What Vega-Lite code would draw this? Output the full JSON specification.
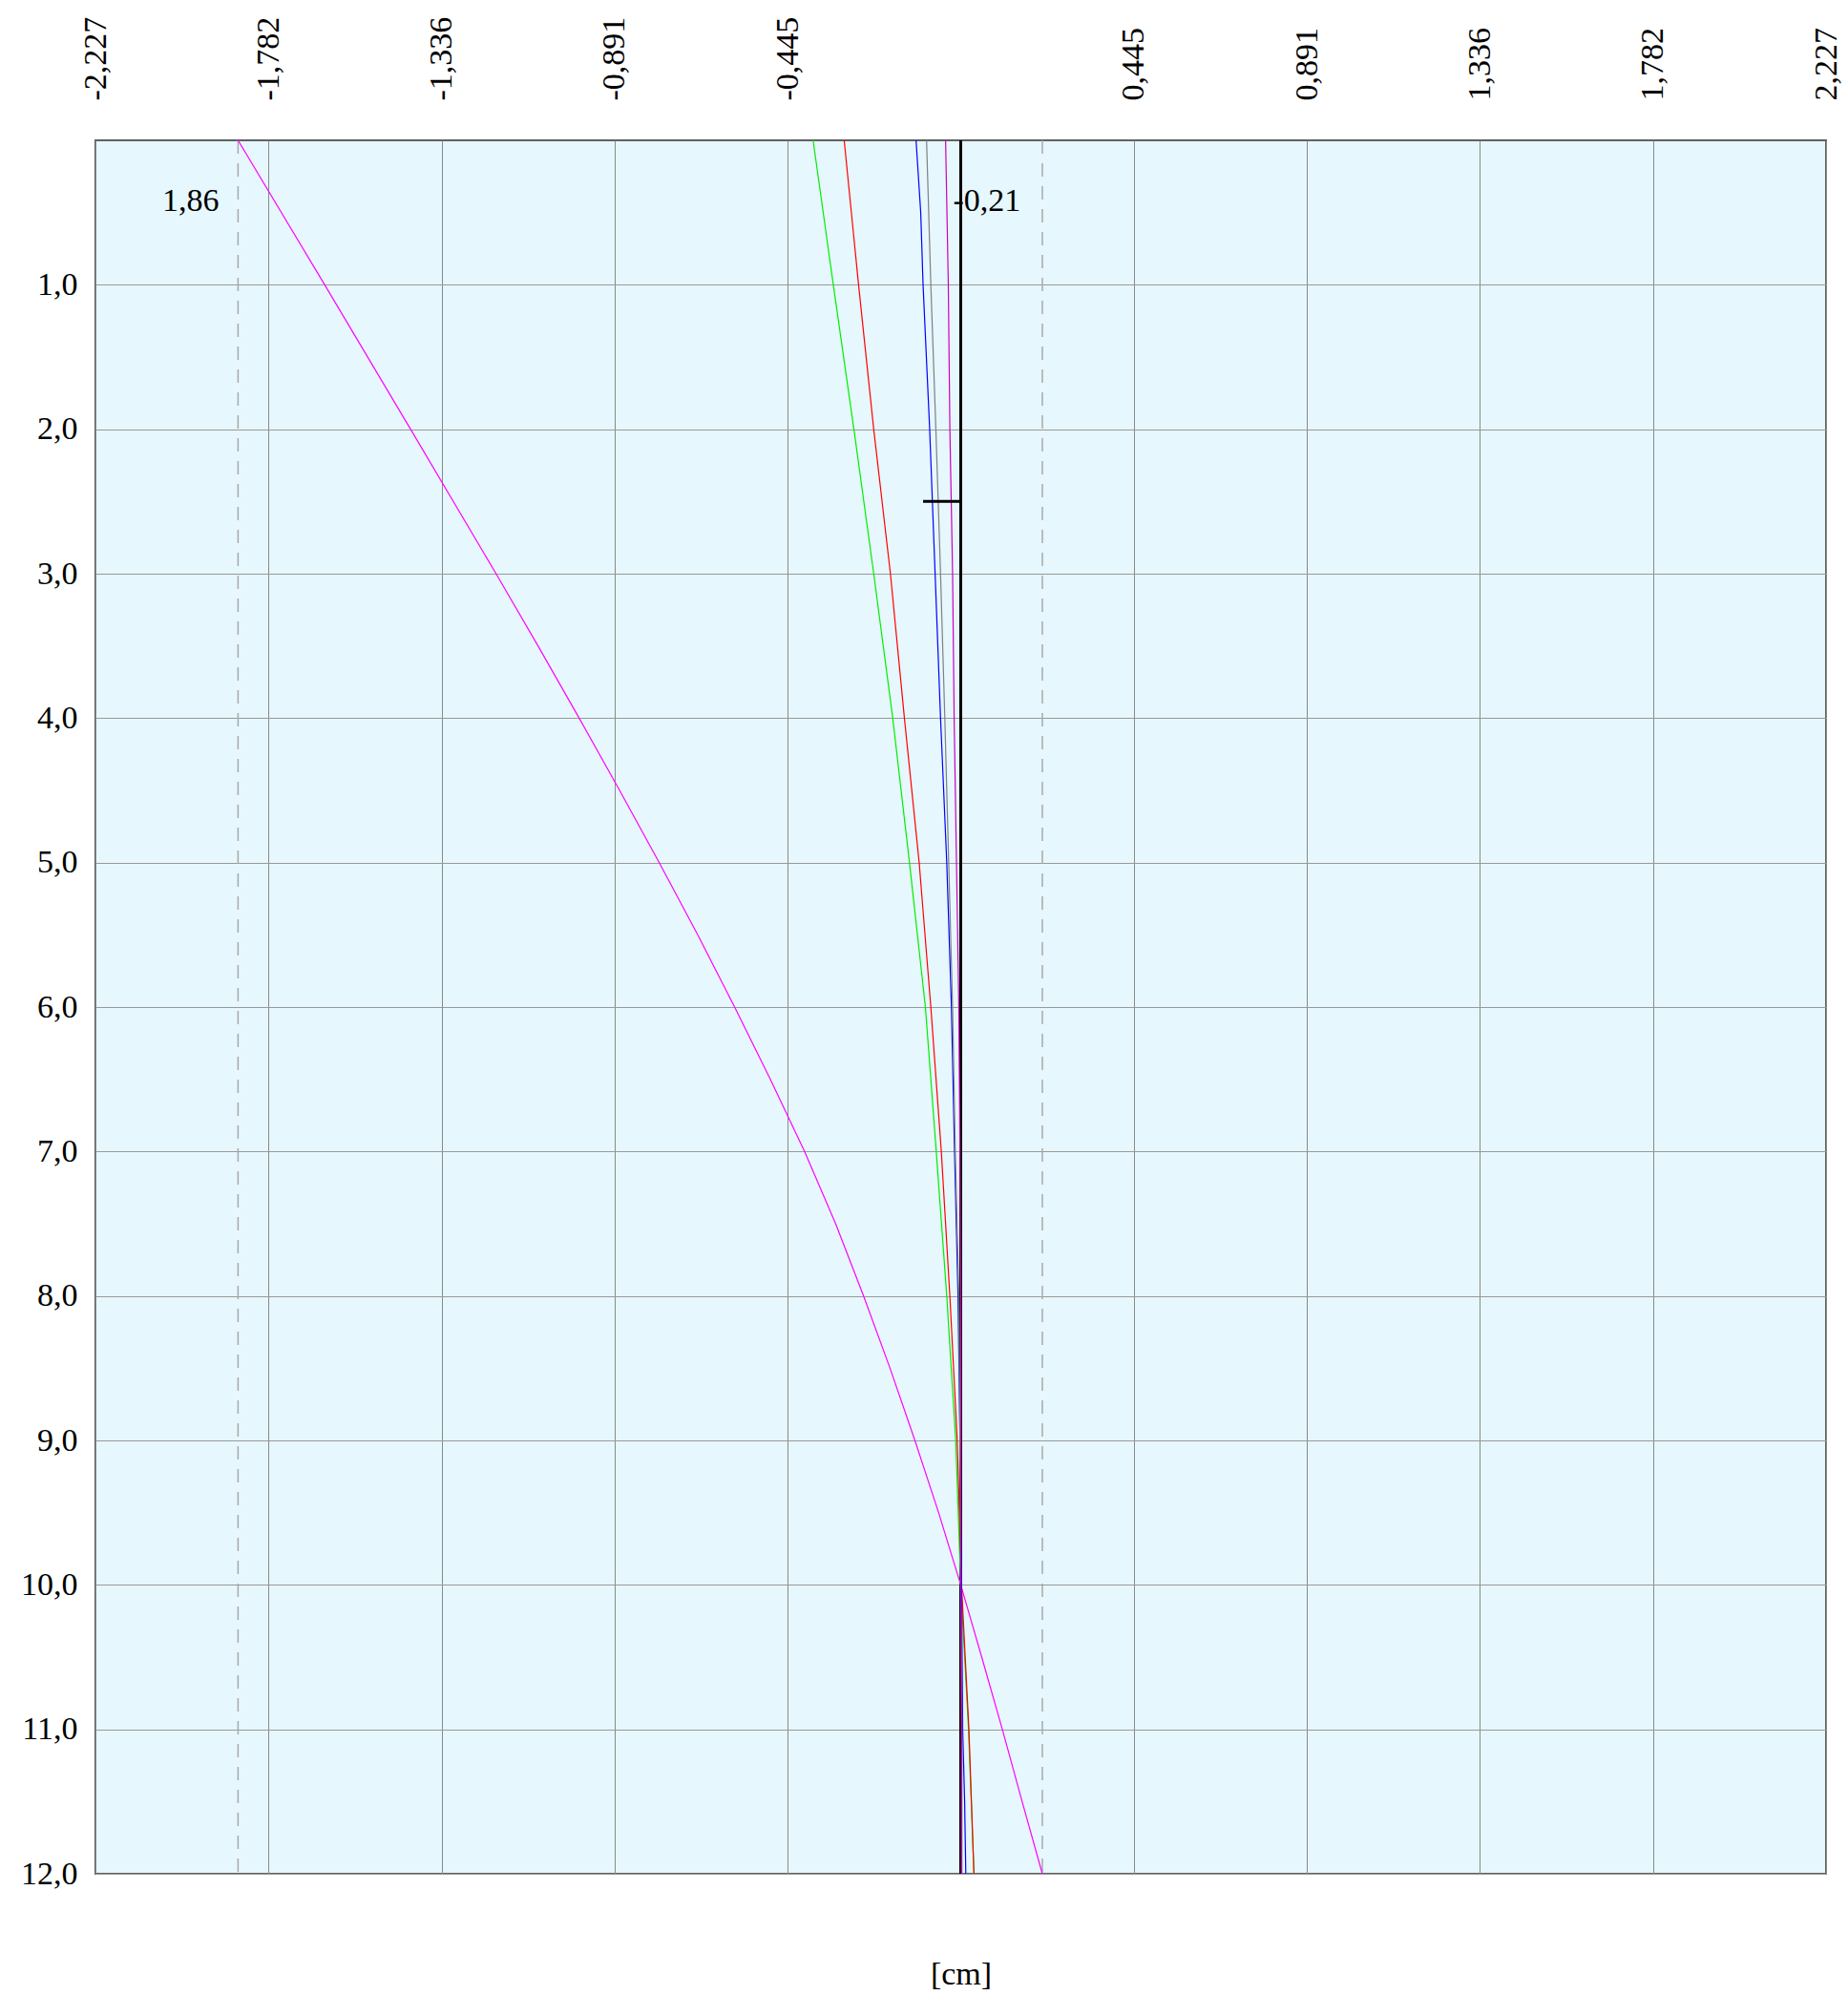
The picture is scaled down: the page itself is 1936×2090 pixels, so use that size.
{
  "$schema": "https://vega.github.io/schema/vega-lite/v6.json",
  "width": 1813,
  "height": 1816,
  "autosize": "none",
  "padding": {"left": 100, "top": 147, "right": 23, "bottom": 127},
  "background": "white",
  "config": {
    "view": {"fill": "#e6f7fd", "stroke": "#606060", "strokeWidth": 2},
    "axis": {
      "labelFont": "Liberation Serif",
      "labelFontSize": 34,
      "labelColor": "black",
      "titleFont": "Liberation Serif",
      "titleFontSize": 34,
      "titleFontWeight": "normal",
      "titleColor": "black",
      "gridColor": "#8a8a8a",
      "gridWidth": 1,
      "gridOpacity": 1
    }
  },
  "datasets": {
    "lines": [
      {"series": "A", "depth": 0, "disp": -1.86},
      {"series": "A", "depth": 1, "disp": -1.637},
      {"series": "A", "depth": 2, "disp": -1.416},
      {"series": "A", "depth": 3, "disp": -1.196},
      {"series": "A", "depth": 3.5, "disp": -1.088},
      {"series": "A", "depth": 4, "disp": -0.982},
      {"series": "A", "depth": 4.5, "disp": -0.878},
      {"series": "A", "depth": 5, "disp": -0.776},
      {"series": "A", "depth": 5.5, "disp": -0.677},
      {"series": "A", "depth": 6, "disp": -0.582},
      {"series": "A", "depth": 6.5, "disp": -0.49},
      {"series": "A", "depth": 7, "disp": -0.402},
      {"series": "A", "depth": 7.5, "disp": -0.322},
      {"series": "A", "depth": 8, "disp": -0.25},
      {"series": "A", "depth": 8.5, "disp": -0.182},
      {"series": "A", "depth": 9, "disp": -0.118},
      {"series": "A", "depth": 9.5, "disp": -0.057},
      {"series": "A", "depth": 10, "disp": 0.0},
      {"series": "A", "depth": 10.5, "disp": 0.054},
      {"series": "A", "depth": 11, "disp": 0.107},
      {"series": "A", "depth": 11.5, "disp": 0.158},
      {"series": "A", "depth": 12, "disp": 0.21},
      {"series": "G", "depth": 0, "disp": -0.38},
      {"series": "G", "depth": 1, "disp": -0.328},
      {"series": "G", "depth": 2, "disp": -0.275},
      {"series": "G", "depth": 3, "disp": -0.224},
      {"series": "G", "depth": 4, "disp": -0.175},
      {"series": "G", "depth": 5, "disp": -0.132},
      {"series": "G", "depth": 6, "disp": -0.091},
      {"series": "G", "depth": 7, "disp": -0.063},
      {"series": "G", "depth": 8, "disp": -0.036},
      {"series": "G", "depth": 9, "disp": -0.013},
      {"series": "G", "depth": 10, "disp": 0.0},
      {"series": "G", "depth": 11, "disp": 0.02},
      {"series": "G", "depth": 12, "disp": 0.034},
      {"series": "R", "depth": 0, "disp": -0.3},
      {"series": "R", "depth": 1, "disp": -0.263},
      {"series": "R", "depth": 2, "disp": -0.224},
      {"series": "R", "depth": 3, "disp": -0.181},
      {"series": "R", "depth": 4, "disp": -0.145},
      {"series": "R", "depth": 5, "disp": -0.107},
      {"series": "R", "depth": 6, "disp": -0.077},
      {"series": "R", "depth": 7, "disp": -0.05},
      {"series": "R", "depth": 8, "disp": -0.028},
      {"series": "R", "depth": 9, "disp": -0.009},
      {"series": "R", "depth": 10, "disp": 0.002},
      {"series": "R", "depth": 11, "disp": 0.021},
      {"series": "R", "depth": 12, "disp": 0.034},
      {"series": "B", "depth": 0, "disp": -0.115},
      {"series": "B", "depth": 0.5, "disp": -0.103},
      {"series": "B", "depth": 1, "disp": -0.097},
      {"series": "B", "depth": 2, "disp": -0.08},
      {"series": "B", "depth": 3, "disp": -0.066},
      {"series": "B", "depth": 4, "disp": -0.052},
      {"series": "B", "depth": 5, "disp": -0.036},
      {"series": "B", "depth": 6, "disp": -0.024},
      {"series": "B", "depth": 7, "disp": -0.016},
      {"series": "B", "depth": 8, "disp": -0.007},
      {"series": "B", "depth": 9, "disp": -0.002},
      {"series": "B", "depth": 10, "disp": 0.002},
      {"series": "B", "depth": 11, "disp": 0.005},
      {"series": "B", "depth": 11.5, "disp": 0.01},
      {"series": "B", "depth": 12, "disp": 0.013},
      {"series": "K", "depth": 0, "disp": -0.088},
      {"series": "K", "depth": 1, "disp": -0.077},
      {"series": "K", "depth": 2, "disp": -0.064},
      {"series": "K", "depth": 3, "disp": -0.052},
      {"series": "K", "depth": 4, "disp": -0.041},
      {"series": "K", "depth": 5, "disp": -0.031},
      {"series": "K", "depth": 6, "disp": -0.021},
      {"series": "K", "depth": 7, "disp": -0.014},
      {"series": "K", "depth": 8, "disp": -0.005},
      {"series": "K", "depth": 9, "disp": -0.002},
      {"series": "K", "depth": 10, "disp": 0.0},
      {"series": "K", "depth": 11, "disp": 0.003},
      {"series": "K", "depth": 12, "disp": 0.003},
      {"series": "P", "depth": 0, "disp": -0.039},
      {"series": "P", "depth": 1, "disp": -0.032},
      {"series": "P", "depth": 2, "disp": -0.028},
      {"series": "P", "depth": 3, "disp": -0.021},
      {"series": "P", "depth": 4, "disp": -0.017},
      {"series": "P", "depth": 5, "disp": -0.011},
      {"series": "P", "depth": 6, "disp": -0.005},
      {"series": "P", "depth": 7, "disp": -0.002},
      {"series": "P", "depth": 8, "disp": 0.0},
      {"series": "P", "depth": 9, "disp": 0.0},
      {"series": "P", "depth": 10, "disp": 0.0},
      {"series": "P", "depth": 11, "disp": 0.002},
      {"series": "P", "depth": 12, "disp": 0.002}
    ],
    "limits": [{"disp": -1.86}, {"disp": 0.21}],
    "zeroline": [{"disp": 0}],
    "marker": [{"disp": -0.097, "disp2": 0, "depth": 2.5}],
    "leftlabel": [{"disp": -1.86, "depth": 0.487, "label": "1,86"}],
    "rightlabel": [{"disp": 0, "depth": 0.487, "label": "-0,21"}]
  },
  "resolve": {"axis": {"x": "independent", "y": "independent"}},
  "layer": [
    {
      "data": {"name": "limits"},
      "mark": {"type": "rule", "color": "#aaaaaa", "strokeWidth": 1.5, "strokeDash": [14, 10]},
      "encoding": {
        "x": {
          "field": "disp", "type": "quantitative",
          "scale": {"domain": [-2.227, 2.227], "nice": false, "zero": false},
          "axis": {"orient": "bottom", "labels": false, "ticks": false, "tickSize": 0, "domain": false, "grid": false, "title": "[cm]", "titleBaseline": "alphabetic", "titlePadding": 115}
        }
      }
    },
    {
      "data": {"name": "zeroline"},
      "mark": {"type": "rule", "color": "black", "strokeWidth": 3},
      "encoding": {
        "x": {"field": "disp", "type": "quantitative", "axis": null}
      }
    },
    {
      "data": {"name": "lines"},
      "mark": {"type": "line", "strokeWidth": 1.2},
      "encoding": {
        "x": {
          "field": "disp", "type": "quantitative",
          "axis": {
            "orient": "top",
            "values": [-2.227, -1.7816, -1.3362, -0.8908, -0.4454, 0.4454, 0.8908, 1.3362, 1.7816, 2.227],
            "labelExpr": "(datum.value < 0 ? '-' : '') + replace(format(abs(datum.value), '.3f'), '.', ',')",
            "labelAngle": -90, "labelAlign": "left", "labelBaseline": "middle",
            "labelPadding": 42, "ticks": false, "tickSize": 0, "domain": false, "grid": true,
            "title": null, "labelOverlap": false, "labelBound": false, "labelFlush": false
          }
        },
        "y": {
          "field": "depth", "type": "quantitative",
          "scale": {"domain": [0, 12], "reverse": true, "nice": false, "zero": false},
          "axis": {
            "orient": "left",
            "values": [1, 2, 3, 4, 5, 6, 7, 8, 9, 10, 11, 12],
            "labelExpr": "replace(format(datum.value, '.1f'), '.', ',')",
            "labelPadding": 19, "ticks": false, "tickSize": 0, "domain": false, "grid": true,
            "gridColor": "#999999",
            "title": null, "labelAlign": "right", "labelBaseline": "middle",
            "labelOverlap": false, "labelBound": false, "labelFlush": false
          }
        },
        "color": {
          "field": "series", "type": "nominal", "legend": null,
          "scale": {"domain": ["A", "G", "R", "B", "K", "P"], "range": ["#ff00ff", "#00ee00", "#ff0000", "#0000ff", "#808080", "#cc00bb"]}
        },
        "order": {"field": "depth", "type": "quantitative"}
      }
    },
    {
      "data": {"name": "marker"},
      "mark": {"type": "rule", "color": "black", "strokeWidth": 3},
      "encoding": {
        "x": {"field": "disp", "type": "quantitative", "axis": null},
        "x2": {"field": "disp2"},
        "y": {"field": "depth", "type": "quantitative", "axis": null}
      }
    },
    {
      "data": {"name": "leftlabel"},
      "mark": {"type": "text", "align": "right", "baseline": "alphabetic", "dx": -20, "font": "Liberation Serif", "fontSize": 34, "color": "black"},
      "encoding": {
        "x": {"field": "disp", "type": "quantitative", "axis": null},
        "y": {"field": "depth", "type": "quantitative", "axis": null},
        "text": {"field": "label"}
      }
    },
    {
      "data": {"name": "rightlabel"},
      "mark": {"type": "text", "align": "left", "baseline": "alphabetic", "dx": -8, "font": "Liberation Serif", "fontSize": 34, "color": "black"},
      "encoding": {
        "x": {"field": "disp", "type": "quantitative", "axis": null},
        "y": {"field": "depth", "type": "quantitative", "axis": null},
        "text": {"field": "label"}
      }
    }
  ]
}
